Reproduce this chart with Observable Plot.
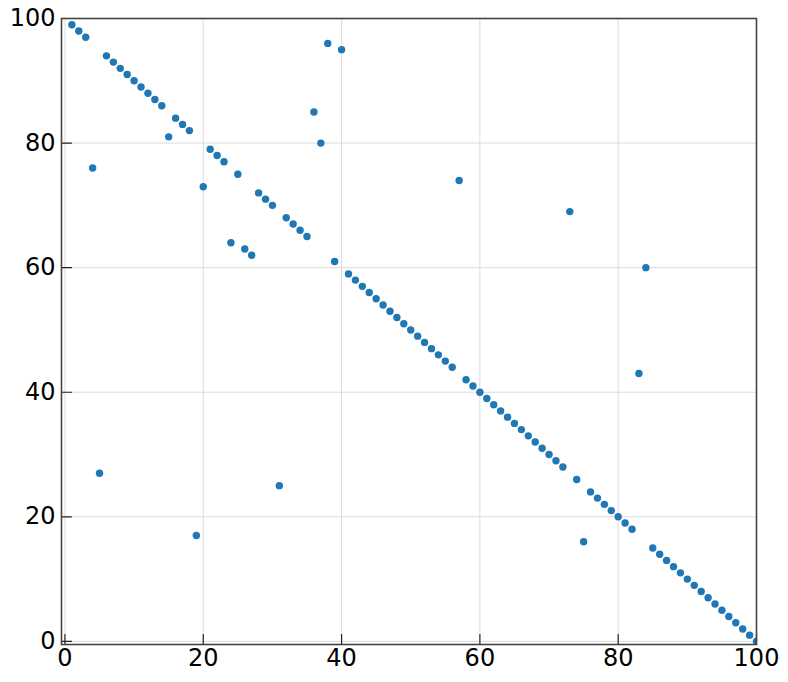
<!DOCTYPE html>
<html>
<head>
<meta charset="utf-8">
<script src="https://cdn.jsdelivr.net/npm/d3@7"></script>
<script src="https://cdn.jsdelivr.net/npm/@observablehq/plot@0.6"></script>
<style>
  html, body { margin: 0; padding: 0; background: #fff; }
  #chart svg { display: block; }
</style>
</head>
<body>
<div id="chart"></div>
<script>
const xValues = [
  1, 2, 3, 4, 5, 6, 7, 8, 9, 10,
  11, 12, 13, 14, 15, 16, 17, 18, 19, 20,
  21, 22, 23, 24, 25, 26, 27, 28, 29, 30,
  31, 32, 33, 34, 35, 36, 37, 38, 39, 40,
  41, 42, 43, 44, 45, 46, 47, 48, 49, 50,
  51, 52, 53, 54, 55, 56, 57, 58, 59, 60,
  61, 62, 63, 64, 65, 66, 67, 68, 69, 70,
  71, 72, 73, 74, 75, 76, 77, 78, 79, 80,
  81, 82, 83, 84, 85, 86, 87, 88, 89, 90,
  91, 92, 93, 94, 95, 96, 97, 98, 99, 100
];
const yValues = [
  99, 98, 97, 76, 27, 94, 93, 92, 91, 90,
  89, 88, 87, 86, 81, 84, 83, 82, 17, 73,
  79, 78, 77, 64, 75, 63, 62, 72, 71, 70,
  25, 68, 67, 66, 65, 85, 80, 96, 61, 95,
  59, 58, 57, 56, 55, 54, 53, 52, 51, 50,
  49, 48, 47, 46, 45, 44, 74, 42, 41, 40,
  39, 38, 37, 36, 35, 34, 33, 32, 31, 30,
  29, 28, 69, 26, 16, 24, 23, 22, 21, 20,
  19, 18, 43, 60, 15, 14, 13, 12, 11, 10,
  9, 8, 7, 6, 5, 4, 3, 2, 1, 0
];
const xTicks = [0, 20, 40, 60, 80, 100];
const yTicks = [0, 20, 40, 60, 80, 100];

const points = xValues.map((x, i) => ({x, y: yValues[i]}));

const tickShape = {
  draw(context, l) {
    context.moveTo(0, 0);
    context.lineTo(0, -l);
  }
};

const chart = Plot.plot({
  width: 788,
  height: 682,
  marginLeft: 61,
  marginRight: 32,
  marginTop: 18,
  marginBottom: 38,
  style: {fontFamily: "DejaVu Sans", fontSize: "24px", color: "#000", background: "#fff"},
  x: {domain: [-0.5, 100], ticks: xTicks},
  y: {domain: [-0.5, 100], ticks: yTicks},
  marks: [
    Plot.gridX(xTicks, {stroke: "#dcdcdc", strokeOpacity: 1, strokeWidth: 1}),
    Plot.gridY(yTicks, {stroke: "#dcdcdc", strokeOpacity: 1, strokeWidth: 1}),
    Plot.dot(points, {x: "x", y: "y", r: 3.7, fill: "#1f77b4", stroke: "none", clip: "frame"}),
    Plot.vector(xTicks, {x: d => d, frameAnchor: "bottom", length: 10, rotate: 0, anchor: "start", shape: tickShape, stroke: "#222", strokeWidth: 1.2}),
    Plot.vector(yTicks, {y: d => d, frameAnchor: "left", length: 10, rotate: 90, anchor: "start", shape: tickShape, stroke: "#222", strokeWidth: 1.2}),
    Plot.axisX(xTicks, {tickSize: 0, tickPadding: 4, label: null, fontSize: 24, fill: "#000"}),
    Plot.axisY(yTicks, {tickSize: 0, tickPadding: 6, label: null, fontSize: 24, fill: "#000"}),
    Plot.frame({stroke: "#444", strokeWidth: 1.6})
  ]
});
document.getElementById("chart").appendChild(chart);
</script>
</body>
</html>
